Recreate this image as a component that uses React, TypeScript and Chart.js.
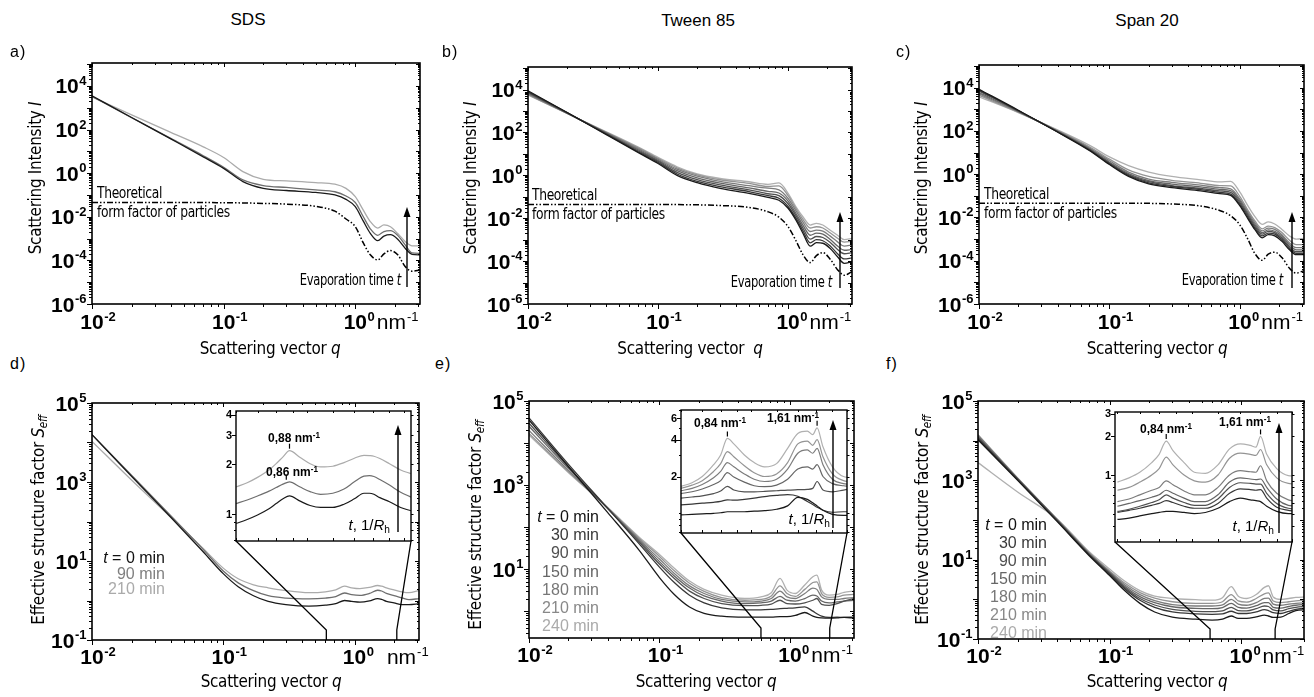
import React, { useEffect, useRef } from 'react';
import { Chart, registerables } from 'chart.js';
Chart.register(...registerables);

const SANS = "'Liberation Sans', Arial, Helvetica, sans-serif";
const NARROW = "'Liberation Sans Narrow', 'DejaVu Sans Condensed', 'Liberation Sans', sans-serif";

// ---------------- DATA ----------------
// scattering vector grids (nm^-1)
const Q_TOP = [0.01, 0.02, 0.04, 0.07, 0.1, 0.14, 0.2, 0.3, 0.5, 0.7, 0.85, 1.0, 1.15, 1.3, 1.48, 1.65, 1.85, 2.1, 2.4, 2.7, 3.1];
const Q_BOT = [0.01, 0.02, 0.04, 0.07, 0.1, 0.13, 0.17, 0.22, 0.3, 0.45, 0.6, 0.72, 0.84, 0.95, 1.1, 1.3, 1.5, 1.61, 1.75, 2.0, 2.3, 2.6, 3.1];
const Q_INS = [0.6, 0.65, 0.7, 0.76, 0.8, 0.84, 0.88, 0.95, 1.02, 1.1, 1.2, 1.3, 1.4, 1.5, 1.56, 1.61, 1.68, 1.8, 1.95, 2.1];

// a) SDS scattering intensity
const A_T0 = [3500, 355, 36, 5.6, 1.66, 0.41, 0.2, 0.16, 0.13, 0.1, 0.063, 0.029, 0.0063, 1.74e-3, 8.1e-4, 1.3e-3, 1.5e-3, 9.3e-4, 3.5e-4, 1.9e-4, 1.8e-4];
const A_T90 = [3300, 347, 38, 6.3, 1.86, 0.49, 0.27, 0.22, 0.17, 0.14, 0.089, 0.045, 0.01, 2.8e-3, 1.4e-3, 2.1e-3, 2.3e-3, 1.4e-3, 5e-4, 2.2e-4, 2.1e-4];
const A_T210 = [3160, 470, 72, 16, 5.2, 1.17, 0.52, 0.44, 0.37, 0.31, 0.2, 0.083, 0.02, 6e-3, 3e-3, 4.2e-3, 3.5e-3, 1.7e-3, 7.2e-4, 4.6e-4, 4.6e-4];
const A_FF = [0.045, 0.045, 0.045, 0.045, 0.044, 0.043, 0.041, 0.038, 0.03, 0.018, 0.0079, 0.0035, 6.3e-4, 1.8e-4, 1.05e-4, 2e-4, 2.8e-4, 1.8e-4, 5.1e-5, 3.2e-5, 3.6e-5];

// b) Tween 85 scattering intensity
const B_T0 = [8700, 850, 79, 11.7, 3.55, 1.0, 0.45, 0.245, 0.145, 0.093, 0.069, 0.029, 8.1e-3, 2.0e-3, 5.0e-4, 7.2e-4, 6.8e-4, 4.0e-4, 1.6e-4, 7.9e-5, 9.3e-5];
const B_T30 = [7900, 830, 83, 12.6, 4.0, 1.15, 0.52, 0.295, 0.174, 0.112, 0.085, 0.035, 0.01, 2.6e-3, 7.1e-4, 1e-3, 8.9e-4, 5.2e-4, 2.2e-4, 1.26e-4, 1.4e-4];
const B_T90 = [7400, 810, 89, 14, 4.5, 1.38, 0.63, 0.355, 0.21, 0.138, 0.112, 0.047, 0.0132, 3.5e-3, 1.05e-3, 1.4e-3, 1.26e-3, 7.6e-4, 3.5e-4, 2.2e-4, 2.5e-4];
const B_T150 = [6900, 790, 93, 15.8, 5.0, 1.66, 0.76, 0.43, 0.26, 0.18, 0.15, 0.063, 0.0166, 4.8e-3, 1.6e-3, 2.0e-3, 1.8e-3, 1.05e-3, 5e-4, 3.2e-4, 3.5e-4];
const B_T180 = [6300, 780, 98, 17.8, 5.6, 1.95, 0.91, 0.52, 0.33, 0.25, 0.21, 0.083, 0.022, 6.6e-3, 2.4e-3, 2.8e-3, 2.5e-3, 1.5e-3, 7.9e-4, 5e-4, 5.6e-4];
const B_T210 = [5900, 760, 102, 19.5, 6.2, 2.24, 1.05, 0.62, 0.42, 0.3, 0.32, 0.112, 0.028, 8.9e-3, 3.5e-3, 4.0e-3, 3.5e-3, 2.1e-3, 1.17e-3, 7.6e-4, 8.3e-4];
const B_T240 = [5500, 760, 107, 21, 6.8, 2.5, 1.15, 0.71, 0.5, 0.38, 0.44, 0.145, 0.034, 0.0117, 4.8e-3, 5.8e-3, 4.8e-3, 2.8e-3, 1.6e-3, 1.0e-3, 1.15e-3];
const B_FF = [0.043, 0.043, 0.043, 0.043, 0.043, 0.043, 0.042, 0.039, 0.032, 0.02, 0.0112, 0.004, 8.9e-4, 2e-4, 8.5e-5, 1.8e-4, 2.5e-4, 1.26e-4, 4e-5, 2.2e-5, 3.2e-5];

// c) Span 20 scattering intensity
const C_T0 = [8500, 910, 89, 12.6, 2.8, 0.79, 0.355, 0.24, 0.17, 0.126, 0.105, 0.034, 8.9e-3, 2.8e-3, 1.15e-3, 1.6e-3, 1.4e-3, 7.9e-4, 3.2e-4, 1.9e-4, 1.9e-4];
const C_T30 = [7900, 870, 91, 13.2, 3.0, 0.87, 0.4, 0.27, 0.195, 0.145, 0.12, 0.04, 0.0105, 3.3e-3, 1.4e-3, 1.9e-3, 1.7e-3, 9.5e-4, 3.8e-4, 2.2e-4, 2.2e-4];
const C_T90 = [7100, 850, 93, 14, 3.3, 0.95, 0.45, 0.3, 0.22, 0.17, 0.145, 0.048, 0.0126, 4e-3, 1.7e-3, 2.3e-3, 2e-3, 1.12e-3, 4.5e-4, 2.6e-4, 2.6e-4];
const C_T150 = [6000, 810, 95, 15, 3.6, 1.07, 0.5, 0.35, 0.26, 0.2, 0.174, 0.058, 0.0148, 4.8e-3, 2e-3, 2.7e-3, 2.3e-3, 1.35e-3, 5.4e-4, 3.2e-4, 3.2e-4];
const C_T180 = [5200, 780, 100, 16.6, 4.2, 1.26, 0.6, 0.42, 0.31, 0.24, 0.21, 0.071, 0.0178, 5.8e-3, 2.4e-3, 3.2e-3, 2.8e-3, 1.6e-3, 6.6e-4, 4e-4, 4e-4];
const C_T210 = [4500, 740, 105, 18.6, 5.0, 1.58, 0.79, 0.52, 0.38, 0.3, 0.29, 0.093, 0.022, 7.1e-3, 3e-3, 4e-3, 3.4e-3, 2e-3, 8.9e-4, 5.6e-4, 5.6e-4];
const C_T240 = [3800, 710, 112, 22, 6.3, 2.5, 1.26, 0.79, 0.55, 0.44, 0.47, 0.15, 0.035, 0.0112, 4.8e-3, 6.3e-3, 5e-3, 2.8e-3, 1.4e-3, 1e-3, 1.07e-3];
const C_FF = [0.046, 0.046, 0.046, 0.046, 0.046, 0.046, 0.045, 0.042, 0.034, 0.021, 0.012, 0.0045, 1e-3, 2.2e-4, 1.05e-4, 2e-4, 2.5e-4, 1.4e-4, 4.5e-5, 2.7e-5, 3.5e-5];

// d) SDS effective structure factor
const D_T0 = [15800, 1400, 126, 17.4, 4.8, 2.24, 1.32, 0.95, 0.79, 0.72, 0.76, 0.83, 1.0, 0.95, 0.91, 0.98, 1.12, 1.07, 0.95, 0.87, 0.79, 0.79, 0.83];
const D_T90 = [15800, 1480, 138, 20, 5.6, 2.8, 1.78, 1.32, 1.15, 1.1, 1.15, 1.26, 1.55, 1.41, 1.35, 1.51, 1.82, 1.74, 1.51, 1.32, 1.17, 1.05, 1.12];
const D_T210 = [10700, 1120, 126, 21, 6.6, 3.55, 2.5, 2.1, 1.78, 1.58, 1.66, 1.86, 2.3, 2.1, 2.0, 2.14, 2.4, 2.3, 2.1, 1.86, 1.66, 1.58, 1.78];
const DI_T0 = [0.88, 0.93, 0.99, 1.08, 1.16, 1.24, 1.29, 1.2, 1.13, 1.1, 1.1, 1.15, 1.24, 1.34, 1.34, 1.32, 1.26, 1.19, 1.1, 1.05];
const DI_T90 = [1.16, 1.22, 1.29, 1.38, 1.45, 1.52, 1.57, 1.46, 1.37, 1.32, 1.34, 1.42, 1.57, 1.7, 1.71, 1.69, 1.62, 1.5, 1.36, 1.27];
const DI_T210 = [1.46, 1.55, 1.67, 1.85, 2.02, 2.22, 2.42, 2.2, 2.02, 1.93, 1.95, 2.05, 2.18, 2.27, 2.26, 2.24, 2.17, 2.02, 1.85, 1.76];
const D_PEAK_Q = [0.88, 0.86];
const D_PEAK_S = [2.42, 1.57];

// e) Tween 85 effective structure factor
const E_T0 = [35500, 2800, 224, 28, 6.3, 2.5, 1.26, 0.89, 0.76, 0.72, 0.72, 0.72, 0.74, 0.74, 0.79, 0.93, 0.76, 0.71, 0.69, 0.68, 0.69, 0.71, 0.69];
const E_T30 = [39800, 3160, 282, 40, 11.2, 4.8, 2.4, 1.58, 1.2, 1.07, 1.07, 1.1, 1.15, 1.17, 1.2, 1.26, 1.0, 0.87, 0.76, 0.71, 0.72, 0.71, 0.72];
const E_T90 = [29500, 2700, 282, 44, 13.2, 6.0, 3.0, 2.0, 1.51, 1.35, 1.38, 1.48, 1.82, 1.51, 1.48, 1.58, 1.82, 2.0, 1.45, 1.38, 1.51, 1.74, 2.0];
const E_T150 = [25100, 2500, 282, 47, 15.1, 6.9, 3.55, 2.3, 1.74, 1.51, 1.58, 1.74, 2.24, 1.82, 1.74, 2.0, 2.4, 2.3, 1.74, 1.58, 1.66, 1.74, 1.82];
const E_T180 = [20000, 2240, 282, 50, 17.4, 7.9, 4.0, 2.63, 1.9, 1.66, 1.74, 2.0, 3.0, 2.19, 2.0, 2.63, 3.55, 3.3, 2.19, 1.9, 1.9, 2.0, 2.1];
const E_T210 = [17000, 2090, 288, 54, 20, 9.1, 4.6, 2.95, 2.1, 1.82, 1.9, 2.3, 4.0, 2.63, 2.24, 3.3, 4.8, 5.0, 2.63, 2.14, 2.19, 2.4, 2.5];
const E_T240 = [15500, 2000, 295, 57.5, 22.4, 10.5, 5.2, 3.3, 2.4, 2.0, 2.19, 2.75, 6.0, 3.16, 2.63, 4.2, 6.6, 7.2, 3.16, 2.4, 2.5, 2.8, 3.0];
const EI_T0 = [0.97, 0.98, 0.99, 1.0, 1.01, 1.03, 1.03, 1.03, 1.04, 1.05, 1.08, 1.15, 1.35, 1.3, 1.22, 1.15, 1.06, 0.98, 0.96, 0.96];
const EI_T30 = [1.17, 1.19, 1.21, 1.23, 1.25, 1.29, 1.28, 1.3, 1.33, 1.37, 1.4, 1.42, 1.38, 1.25, 1.18, 1.12, 1.06, 1.02, 1.03, 1.03];
const EI_T90 = [1.33, 1.36, 1.39, 1.45, 1.52, 1.66, 1.55, 1.5, 1.5, 1.51, 1.53, 1.55, 1.56, 1.57, 1.6, 1.82, 1.55, 1.5, 1.55, 1.6];
const EI_T150 = [1.45, 1.5, 1.58, 1.72, 1.85, 2.15, 1.98, 1.8, 1.68, 1.65, 1.7, 1.9, 2.3, 2.4, 2.3, 2.5, 2.0, 1.75, 1.68, 1.66];
const EI_T180 = [1.53, 1.6, 1.72, 1.95, 2.2, 2.6, 2.4, 2.1, 1.9, 1.82, 1.9, 2.3, 3.1, 3.3, 3.1, 3.4, 2.5, 1.9, 1.75, 1.72];
const EI_T210 = [1.6, 1.7, 1.85, 2.2, 2.55, 3.2, 2.9, 2.45, 2.15, 2.0, 2.1, 2.6, 3.7, 3.9, 3.6, 4.0, 2.9, 2.1, 1.85, 1.8];
const EI_T240 = [1.66, 1.78, 2.0, 2.5, 3.0, 4.1, 3.7, 3.0, 2.6, 2.4, 2.55, 3.4, 4.5, 4.7, 4.4, 5.0, 3.5, 2.4, 2.0, 1.95];
const E_PEAK_Q = [0.84, 1.61];
const E_PEAK_S = [4.1, 5.0];

// f) Span 20 effective structure factor
const F_T0 = [10500, 1000, 91, 12.6, 4.0, 1.66, 0.79, 0.48, 0.355, 0.316, 0.3, 0.316, 0.38, 0.33, 0.33, 0.36, 0.4, 0.38, 0.35, 0.355, 0.44, 0.52, 0.55];
const F_T30 = [11200, 1050, 95, 13.2, 4.3, 1.86, 0.95, 0.63, 0.48, 0.43, 0.42, 0.43, 0.5, 0.44, 0.44, 0.48, 0.55, 0.52, 0.46, 0.44, 0.5, 0.56, 0.6];
const F_T90 = [12000, 1070, 98, 13.5, 4.5, 2.0, 1.05, 0.72, 0.56, 0.5, 0.49, 0.51, 0.63, 0.52, 0.51, 0.58, 0.68, 0.66, 0.54, 0.51, 0.58, 0.63, 0.66];
const F_T150 = [12600, 1100, 100, 13.8, 4.7, 2.14, 1.17, 0.83, 0.65, 0.59, 0.58, 0.62, 0.79, 0.63, 0.6, 0.69, 0.83, 0.83, 0.63, 0.6, 0.66, 0.71, 0.74];
const F_T180 = [13500, 1120, 102, 14.5, 4.9, 2.34, 1.32, 0.93, 0.74, 0.68, 0.68, 0.72, 1.0, 0.76, 0.71, 0.83, 1.05, 1.07, 0.76, 0.71, 0.76, 0.79, 0.83];
const F_T210 = [14100, 1150, 105, 14.8, 5.2, 2.57, 1.48, 1.07, 0.87, 0.79, 0.79, 0.87, 1.32, 0.91, 0.85, 1.05, 1.38, 1.45, 0.91, 0.83, 0.87, 0.91, 0.95];
const F_T240 = [2800, 510, 105, 15.8, 5.8, 2.9, 1.66, 1.2, 1.05, 0.98, 0.95, 1.1, 2.1, 1.2, 1.05, 1.32, 2.0, 2.2, 1.15, 1.0, 1.05, 1.12, 1.15];
const FI_T0 = [0.45, 0.46, 0.48, 0.5, 0.51, 0.52, 0.52, 0.51, 0.5, 0.51, 0.55, 0.62, 0.66, 0.64, 0.63, 0.62, 0.57, 0.52, 0.5, 0.5];
const FI_T30 = [0.51, 0.53, 0.55, 0.58, 0.6, 0.63, 0.61, 0.57, 0.55, 0.55, 0.6, 0.72, 0.78, 0.77, 0.76, 0.77, 0.66, 0.56, 0.53, 0.52];
const FI_T90 = [0.52, 0.54, 0.57, 0.61, 0.64, 0.7, 0.66, 0.61, 0.58, 0.58, 0.65, 0.8, 0.87, 0.86, 0.85, 0.85, 0.72, 0.6, 0.55, 0.54];
const FI_T150 = [0.57, 0.6, 0.63, 0.67, 0.7, 0.76, 0.72, 0.66, 0.62, 0.62, 0.7, 0.88, 0.95, 0.93, 0.92, 0.93, 0.8, 0.65, 0.58, 0.57];
const FI_T180 = [0.62, 0.65, 0.7, 0.76, 0.8, 0.9, 0.84, 0.75, 0.7, 0.7, 0.8, 1.0, 1.08, 1.06, 1.05, 1.18, 0.9, 0.72, 0.64, 0.62];
const FI_T210 = [0.76, 0.8, 0.88, 1.0, 1.12, 1.38, 1.2, 1.0, 0.9, 0.88, 1.0, 1.35, 1.48, 1.45, 1.42, 1.58, 1.2, 0.95, 0.86, 0.85];
const FI_T240 = [0.88, 0.95, 1.05, 1.25, 1.45, 1.84, 1.55, 1.25, 1.05, 1.03, 1.2, 1.6, 1.75, 1.7, 1.65, 2.0, 1.45, 1.12, 0.99, 0.98];
const F_PEAK_Q = [0.84, 1.61];
const F_PEAK_S = [1.84, 2.0];

// tick labels
const TOP_Y_LABELS = [1e-6, 1e-4, 1e-2, 1, 1e2, 1e4];
const BOT_Y_LABELS = [0.1, 10, 1e3, 1e5];
const E_Y_LABELS = [10, 1e3, 1e5];
const X_LABELS = [0.01, 0.1, 1];
const D_INSET_Y = [1, 2, 3, 4];
const E_INSET_Y = [2, 4, 6];
const F_INSET_Y = [1, 2, 3];
const INSET_X_TICKS = [0.6, 0.7, 0.8, 0.9, 1, 1.2, 1.4, 1.6, 1.8, 2];
const TIMES_7 = ['0', '30', '90', '150', '180', '210', '240'];
const TIMES_3 = ['0', '90', '210'];

// styles
const GRAY7 = ['#1a1a1a', '#383838', '#505050', '#666666', '#7c7c7c', '#949494', '#b0b0b0'];
const LEG7 = ['#111111', '#3a3a3a', '#505050', '#666666', '#777777', '#888888', '#aaaaaa'];
const GRAY3 = ['#1a1a1a', '#6e6e6e', '#ababab'];
const LEG3 = ['#111111', '#808080', '#aaaaaa'];
const FF_DASH = [6, 2, 1.5, 2, 1.5, 2];

// ---------------- helpers ----------------
type Line = { v: number[]; color: string; width?: number; dash?: number[] };

function logTicks(min: number, max: number) {
  const out: { v: number; major: boolean }[] = [];
  for (let e = Math.floor(Math.log10(min)); e <= Math.ceil(Math.log10(max)); e++) {
    for (let m = 1; m <= 9; m++) {
      const v = m * Math.pow(10, e);
      if (v >= min * 0.9999 && v <= max * 1.0001) out.push({ v, major: m === 1 });
    }
  }
  return out;
}

const BIG = `bold 21px ${SANS}`;
const SUP = `bold 13px ${SANS}`;

function drawPow(ctx: any, v: number, x: number, yc: number, mode: 'right' | 'center') {
  const exp = String(Math.round(Math.log10(v)));
  ctx.font = BIG;
  const w10 = ctx.measureText('10').width;
  ctx.font = SUP;
  const ws = ctx.measureText(exp).width;
  const x0 = mode === 'right' ? x - w10 - 1 - ws : x - w10 / 2;
  ctx.fillStyle = '#000';
  ctx.textAlign = 'left';
  ctx.textBaseline = 'alphabetic';
  ctx.font = BIG;
  ctx.fillText('10', x0, yc + 7.5);
  ctx.font = SUP;
  ctx.fillText(exp, x0 + w10 + 0.5, yc - 1);
  return x0 + w10 + 0.5 + ws;
}

function seg(ctx: any, x1: number, y1: number, x2: number, y2: number) {
  ctx.beginPath();
  ctx.moveTo(x1, y1);
  ctx.lineTo(x2, y2);
  ctx.stroke();
}

function arrowUp(ctx: any, x: number, yBottom: number, yTop: number) {
  ctx.strokeStyle = '#000';
  ctx.fillStyle = '#000';
  ctx.lineWidth = 1.4;
  seg(ctx, x, yBottom, x, yTop + 8);
  ctx.beginPath();
  ctx.moveTo(x, yTop);
  ctx.lineTo(x - 3.5, yTop + 10);
  ctx.lineTo(x + 3.5, yTop + 10);
  ctx.closePath();
  ctx.fill();
}

function toDatasets(q: number[], lines: Line[]) {
  return lines.map((l) => ({
    data: q.map((x, i) => ({ x, y: l.v[i] })),
    borderColor: l.color,
    borderWidth: l.width ?? 1.3,
    borderDash: l.dash ?? [],
    pointRadius: 0,
    fill: false,
    cubicInterpolationMode: 'monotone' as const,
  }));
}

type MainProps = {
  plot: [number, number, number, number];
  q: number[];
  xr: [number, number];
  yr: [number, number];
  lines: Line[];
  yLab: number[];
  nmGap: number;
  xLabDy: number;
  arrow?: [number, number, number];
  conn?: { inset: [number, number, number, number]; q0: number; q1: number };
};

function MainChart(p: MainProps) {
  const ref = useRef<HTMLCanvasElement>(null);
  const [l, t, r, b] = p.plot;
  const PL = 90, PT = 10, PR = 10, PB = 38;
  const ox = l - PL, oy = t - PT, w = r - l + PL + PR, h = b - t + PT + PB;
  useEffect(() => {
    const plugin = {
      id: 'axes',
      afterDatasetsDraw(chart: any) {
        const ctx = chart.ctx;
        const a = chart.chartArea;
        const xs = chart.scales.x, ys = chart.scales.y;
        ctx.save();
        ctx.strokeStyle = '#000';
        ctx.lineWidth = 1;
        for (const tk of logTicks(p.xr[0], p.xr[1])) {
          const px = Math.round(xs.getPixelForValue(tk.v)) + 0.5;
          seg(ctx, px, a.bottom, px, a.bottom + (tk.major ? 5 : 3));
          seg(ctx, px, a.top, px, a.top + (tk.major ? 4 : 2));
        }
        for (const tk of logTicks(p.yr[0], p.yr[1])) {
          const py = Math.round(ys.getPixelForValue(tk.v)) + 0.5;
          seg(ctx, a.left - (tk.major ? 5 : 3), py, a.left, py);
          seg(ctx, a.right - (tk.major ? 4 : 2), py, a.right, py);
        }
        ctx.lineWidth = 1.6;
        ctx.strokeRect(a.left, a.top, a.right - a.left, a.bottom - a.top);
        for (const v of p.yLab) drawPow(ctx, v, a.left - 5, ys.getPixelForValue(v), 'right');
        for (const v of X_LABELS) {
          const yc = a.bottom + p.xLabDy;
          const end = drawPow(ctx, v, xs.getPixelForValue(v), yc, 'center');
          if (v === 1) {
            ctx.font = `21px ${SANS}`;
            const xn = end + p.nmGap;
            ctx.fillText('nm', xn, yc + 7.5);
            const wn = ctx.measureText('nm').width;
            ctx.font = `13px ${SANS}`;
            ctx.fillText('-1', xn + wn + 1, yc - 1);
          }
        }
        if (p.arrow) arrowUp(ctx, p.arrow[0] - ox, p.arrow[1] - oy, p.arrow[2] - oy);
        if (p.conn) {
          const [il, , ir, ib] = p.conn.inset;
          ctx.strokeStyle = '#000';
          ctx.lineWidth = 1.3;
          const x0 = xs.getPixelForValue(p.conn.q0);
          const x1 = xs.getPixelForValue(p.conn.q1);
          ctx.beginPath();
          ctx.moveTo(il - ox, ib - oy);
          ctx.lineTo(x0, a.bottom - 10);
          ctx.lineTo(x0, a.bottom);
          ctx.moveTo(ir - ox, ib - oy);
          ctx.lineTo(x1, a.bottom - 10);
          ctx.lineTo(x1, a.bottom);
          ctx.stroke();
        }
        ctx.restore();
      },
    };
    const chart = new Chart(ref.current as HTMLCanvasElement, {
      type: 'line',
      data: { datasets: toDatasets(p.q, p.lines) as any },
      options: {
        animation: false,
        responsive: false,
        maintainAspectRatio: false,
        events: [],
        layout: { padding: { left: PL, top: PT, right: PR, bottom: PB } },
        plugins: { legend: { display: false }, tooltip: { enabled: false } },
        scales: {
          x: { type: 'logarithmic', min: p.xr[0], max: p.xr[1], display: false },
          y: { type: 'logarithmic', min: p.yr[0], max: p.yr[1], display: false },
        },
      } as any,
      plugins: [plugin],
    });
    return () => chart.destroy();
  }, []);
  return (
    <canvas
      ref={ref}
      width={w}
      height={h}
      style={{ position: 'absolute', left: ox, top: oy, width: w, height: h }}
    />
  );
}

type InsetProps = {
  rect: [number, number, number, number];
  xr: [number, number];
  yr: [number, number];
  lines: Line[];
  yLab: number[];
  peakQ: number[];
  peakS: number[];
  arrow: [number, number, number];
};

function InsetChart(p: InsetProps) {
  const ref = useRef<HTMLCanvasElement>(null);
  const [l, t, r, b] = p.rect;
  const PL = 22, PT = 6, PR = 8, PB = 6;
  const ox = l - PL, oy = t - PT, w = r - l + PL + PR, h = b - t + PT + PB;
  useEffect(() => {
    const plugin = {
      id: 'insetAxes',
      beforeDatasetsDraw(chart: any) {
        const a = chart.chartArea;
        chart.ctx.save();
        chart.ctx.fillStyle = '#fff';
        chart.ctx.fillRect(a.left, a.top, a.right - a.left, a.bottom - a.top);
        chart.ctx.restore();
      },
      afterDatasetsDraw(chart: any) {
        const ctx = chart.ctx;
        const a = chart.chartArea;
        const xs = chart.scales.x, ys = chart.scales.y;
        ctx.save();
        ctx.strokeStyle = '#000';
        ctx.lineWidth = 1;
        for (const tk of logTicks(p.yr[0], p.yr[1])) {
          const py = Math.round(ys.getPixelForValue(tk.v)) + 0.5;
          const lab = p.yLab.indexOf(tk.v) >= 0;
          seg(ctx, a.left - (lab ? 4 : 2), py, a.left, py);
          seg(ctx, a.right, py, a.right + 2.5, py);
        }
        for (const q of INSET_X_TICKS) {
          if (q < p.xr[0] || q > p.xr[1]) continue;
          const px = Math.round(xs.getPixelForValue(q)) + 0.5;
          seg(ctx, px, a.bottom, px, a.bottom - 3);
          seg(ctx, px, a.top, px, a.top + 2);
        }
        ctx.lineWidth = 1.4;
        ctx.strokeRect(a.left, a.top, a.right - a.left, a.bottom - a.top);
        ctx.fillStyle = '#000';
        ctx.font = `bold 11px ${SANS}`;
        ctx.textAlign = 'right';
        ctx.textBaseline = 'middle';
        for (const v of p.yLab) ctx.fillText(String(v), a.left - 4, ys.getPixelForValue(v) + 0.5);
        ctx.lineWidth = 1.2;
        for (let i = 0; i < p.peakQ.length; i++) {
          const px = xs.getPixelForValue(p.peakQ[i]);
          const py = ys.getPixelForValue(p.peakS[i]);
          seg(ctx, px, py - 2, px, py - 7);
        }
        arrowUp(ctx, p.arrow[0] - ox, p.arrow[1] - oy, p.arrow[2] - oy);
        ctx.restore();
      },
    };
    const chart = new Chart(ref.current as HTMLCanvasElement, {
      type: 'line',
      data: { datasets: toDatasets(Q_INS, p.lines) as any },
      options: {
        animation: false,
        responsive: false,
        maintainAspectRatio: false,
        events: [],
        layout: { padding: { left: PL, top: PT, right: PR, bottom: PB } },
        plugins: { legend: { display: false }, tooltip: { enabled: false } },
        scales: {
          x: { type: 'logarithmic', min: p.xr[0], max: p.xr[1], display: false },
          y: { type: 'logarithmic', min: p.yr[0], max: p.yr[1], display: false },
        },
      } as any,
      plugins: [plugin],
    });
    return () => chart.destroy();
  }, []);
  return (
    <canvas
      ref={ref}
      width={w}
      height={h}
      style={{ position: 'absolute', left: ox, top: oy, width: w, height: h }}
    />
  );
}

type TProps = {
  x: number;
  y: number;
  align?: 'left' | 'center' | 'right';
  size?: number;
  font?: string;
  color?: string;
  rotate?: boolean;
  bold?: boolean;
  ls?: number;
  sx?: number;
  children: React.ReactNode;
};
function T({ x, y, align = 'left', size = 16, font = SANS, color = '#000', rotate, bold, ls, sx = 1, children }: TProps) {
  const tx = align === 'left' ? '0' : align === 'center' ? '-50%' : '-100%';
  const origin = rotate ? 'center center' : align === 'left' ? 'left center' : align === 'right' ? 'right center' : 'center center';
  return (
    <div
      style={{
        position: 'absolute',
        left: x,
        top: y,
        transform: rotate
          ? `translate(-50%,-50%) rotate(-90deg) scaleX(${sx})`
          : `translate(${tx},-50%) scaleX(${sx})`,
        transformOrigin: origin,
        whiteSpace: 'nowrap',
        fontSize: size,
        fontFamily: font,
        color,
        lineHeight: 1,
        fontWeight: bold ? 'bold' : 'normal',
        letterSpacing: ls ?? 0,
      }}
    >
      {children}
    </div>
  );
}

const supS: React.CSSProperties = { fontSize: '0.68em', verticalAlign: '0.55em' };
const subS: React.CSSProperties = { fontSize: '0.68em', verticalAlign: '-0.3em' };

function Legend({ x, y0, dy, times, colors }: { x: number; y0: number; dy: number; times: string[]; colors: string[] }) {
  return (
    <>
      {times.map((tm, i) => (
        <T key={tm} x={x} y={y0 + i * dy} align="right" size={16} color={colors[i]}>
          {i === 0 ? (
            <>
              <i>t</i> = 0 min
            </>
          ) : (
            `${tm} min`
          )}
        </T>
      ))}
    </>
  );
}

function PeakLabel({ x, y, text }: { x: number; y: number; text: string }) {
  return (
    <T x={x} y={y} align="center" size={12} bold>
      {text} nm<span style={supS}>-1</span>
    </T>
  );
}

function RhLabel({ x, y }: { x: number; y: number }) {
  return (
    <T x={x} y={y} align="right" size={15}>
      <i>t</i>, 1/<i>R</i>
      <span style={subS}>h</span>
    </T>
  );
}

const ANN_SX = 0.855;
const AX_SX = 0.94;

function FormFactorText({ x, y }: { x: number; y: number }) {
  return (
    <>
      <T x={x} y={y} size={16} font={NARROW} ls={-0.4} sx={ANN_SX}>
        Theoretical
      </T>
      <T x={x} y={y + 19} size={16} font={NARROW} ls={-0.4} sx={ANN_SX}>
        form factor of particles
      </T>
    </>
  );
}

function EvapText({ x, y }: { x: number; y: number }) {
  return (
    <T x={x} y={y} align="right" size={15} font={NARROW} ls={-0.4} sx={ANN_SX}>
      Evaporation time <i>t</i>
    </T>
  );
}

function XTitle({ x, y, wide }: { x: number; y: number; wide?: boolean }) {
  return (
    <T x={x} y={y} align="center" size={18} font={NARROW} ls={-0.3} sx={AX_SX}>
      Scattering vector{wide ? '\u00a0\u00a0' : ' '}
      <i>q</i>
    </T>
  );
}

export default function App() {
  const topX: [number, number] = [0.01, 3.1];
  const topY: [number, number] = [1e-6, 1.12e5];
  const ins = (vals: number[][], colors: string[]): Line[] =>
    vals.map((v, i) => ({ v, color: colors[i], width: 1.2 }));
  return (
    <div style={{ position: 'absolute', left: 0, top: 0, width: 1314, height: 697, overflow: 'hidden', background: '#fff' }}>
      {/* top row */}
      <MainChart
        plot={[92, 63, 420, 304]}
        q={Q_TOP}
        xr={topX}
        yr={topY}
        yLab={TOP_Y_LABELS}
        nmGap={2}
        xLabDy={17.5}
        arrow={[407, 287, 207]}
        lines={[
          { v: A_FF, color: '#000', width: 1.5, dash: FF_DASH },
          { v: A_T0, color: GRAY3[0] },
          { v: A_T90, color: GRAY3[1] },
          { v: A_T210, color: GRAY3[2] },
        ]}
      />
      <MainChart
        plot={[528, 67, 852, 304]}
        q={Q_TOP}
        xr={topX}
        yr={topY}
        yLab={TOP_Y_LABELS}
        nmGap={2}
        xLabDy={17.5}
        arrow={[840, 288, 212]}
        lines={[
          { v: B_FF, color: '#000', width: 1.5, dash: FF_DASH },
          ...[B_T0, B_T30, B_T90, B_T150, B_T180, B_T210, B_T240].map((v, i) => ({ v, color: GRAY7[i] })),
        ]}
      />
      <MainChart
        plot={[979, 65, 1304, 304]}
        q={Q_TOP}
        xr={topX}
        yr={topY}
        yLab={TOP_Y_LABELS}
        nmGap={2}
        xLabDy={17.5}
        arrow={[1292, 288, 212]}
        lines={[
          { v: C_FF, color: '#000', width: 1.5, dash: FF_DASH },
          ...[C_T0, C_T30, C_T90, C_T150, C_T180, C_T210, C_T240].map((v, i) => ({ v, color: GRAY7[i] })),
        ]}
      />
      {/* bottom row */}
      <MainChart
        plot={[92, 403, 419, 640]}
        q={Q_BOT}
        xr={[0.01, 3.1]}
        yr={[0.1, 1e5]}
        yLab={BOT_Y_LABELS}
        nmGap={13}
        xLabDy={16.5}
        conn={{ inset: [236, 411, 411, 541], q0: 0.61, q1: 2.1 }}
        lines={[D_T0, D_T90, D_T210].map((v, i) => ({ v, color: GRAY3[i] }))}
      />
      <MainChart
        plot={[529, 401, 854, 638]}
        q={Q_BOT}
        xr={[0.01, 3.1]}
        yr={[0.23, 1e5]}
        yLab={E_Y_LABELS}
        nmGap={2}
        xLabDy={16.5}
        conn={{ inset: [681, 410, 847, 533], q0: 0.6, q1: 2.02 }}
        lines={[E_T0, E_T30, E_T90, E_T150, E_T180, E_T210, E_T240].map((v, i) => ({ v, color: GRAY7[i] }))}
      />
      <MainChart
        plot={[978, 401, 1304, 639]}
        q={Q_BOT}
        xr={[0.01, 3.0]}
        yr={[0.1, 1e5]}
        yLab={BOT_Y_LABELS}
        nmGap={2}
        xLabDy={16.5}
        conn={{ inset: [1115, 412, 1292, 542], q0: 0.58, q1: 1.81 }}
        lines={[F_T0, F_T30, F_T90, F_T150, F_T180, F_T210, F_T240].map((v, i) => ({ v, color: GRAY7[i] }))}
      />
      {/* insets */}
      <InsetChart
        rect={[236, 411, 411, 541]}
        xr={[0.6, 2.1]}
        yr={[0.69, 4.2]}
        yLab={D_INSET_Y}
        peakQ={D_PEAK_Q}
        peakS={D_PEAK_S}
        arrow={[398, 532, 425]}
        lines={ins([DI_T0, DI_T90, DI_T210], GRAY3)}
      />
      <InsetChart
        rect={[681, 410, 847, 533]}
        xr={[0.6, 2.0]}
        yr={[0.69, 7.0]}
        yLab={E_INSET_Y}
        peakQ={E_PEAK_Q}
        peakS={E_PEAK_S}
        arrow={[833, 528, 420]}
        lines={ins([EI_T0, EI_T30, EI_T90, EI_T150, EI_T180, EI_T210, EI_T240], GRAY7)}
      />
      <InsetChart
        rect={[1115, 412, 1292, 542]}
        xr={[0.59, 2.0]}
        yr={[0.32, 3.1]}
        yLab={F_INSET_Y}
        peakQ={F_PEAK_Q}
        peakS={F_PEAK_S}
        arrow={[1279, 533, 423]}
        lines={ins([FI_T0, FI_T30, FI_T90, FI_T150, FI_T180, FI_T210, FI_T240], GRAY7)}
      />

      {/* column titles and panel letters */}
      <T x={248} y={19} align="center" size={17}>SDS</T>
      <T x={698} y={20} align="center" size={17}>Tween 85</T>
      <T x={1147} y={20} align="center" size={17}>Span 20</T>
      <T x={10} y={52} size={16} ls={1}>a)</T>
      <T x={442} y={52} size={16} ls={1}>b)</T>
      <T x={896} y={52} size={16} ls={1}>c)</T>
      <T x={10} y={364} size={16} ls={1}>d)</T>
      <T x={435} y={364} size={16} ls={1}>e)</T>
      <T x={886} y={364} size={16} ls={1}>f)</T>

      {/* axis titles */}
      {[35, 470, 921].map((x) => (
        <T key={'yt' + x} x={x} y={178} rotate size={18} font={NARROW} ls={-0.3} sx={AX_SX}>
          Scattering Intensity <i>I</i>
        </T>
      ))}
      {[
        [39, 520],
        [476, 525],
        [923, 520],
      ].map(([x, y]) => (
        <T key={'ys' + x} x={x} y={y} rotate size={18} font={NARROW} ls={-0.3} sx={AX_SX}>
          Effective structure factor <i>S</i>
          <span style={subS}>
            <i>eff</i>
          </span>
        </T>
      ))}
      <XTitle x={270} y={348} />
      <XTitle x={690} y={348} wide />
      <XTitle x={1157} y={348} />
      <XTitle x={271} y={681} />
      <XTitle x={706} y={681} />
      <XTitle x={1157} y={681} />

      {/* annotations top */}
      <FormFactorText x={97} y={193} />
      <FormFactorText x={532} y={195} />
      <FormFactorText x={984} y={194} />
      <EvapText x={401} y={280} />
      <EvapText x={832} y={282} />
      <EvapText x={1283} y={280} />

      {/* legends bottom */}
      <Legend x={165} y0={558} dy={15.5} times={TIMES_3} colors={LEG3} />
      <Legend x={599} y0={517} dy={18.2} times={TIMES_7} colors={LEG7} />
      <Legend x={1047} y0={525} dy={18} times={TIMES_7} colors={LEG7} />

      {/* inset annotations */}
      <PeakLabel x={294} y={438} text="0,88" />
      <PeakLabel x={292} y={472} text="0,86" />
      <PeakLabel x={720} y={423} text="0,84" />
      <PeakLabel x={793} y={418} text="1,61" />
      <PeakLabel x={1166} y={429} text="0,84" />
      <PeakLabel x={1245} y={422} text="1,61" />
      <RhLabel x={390} y={526} />
      <RhLabel x={830} y={520} />
      <RhLabel x={1274} y={527} />
    </div>
  );
}
